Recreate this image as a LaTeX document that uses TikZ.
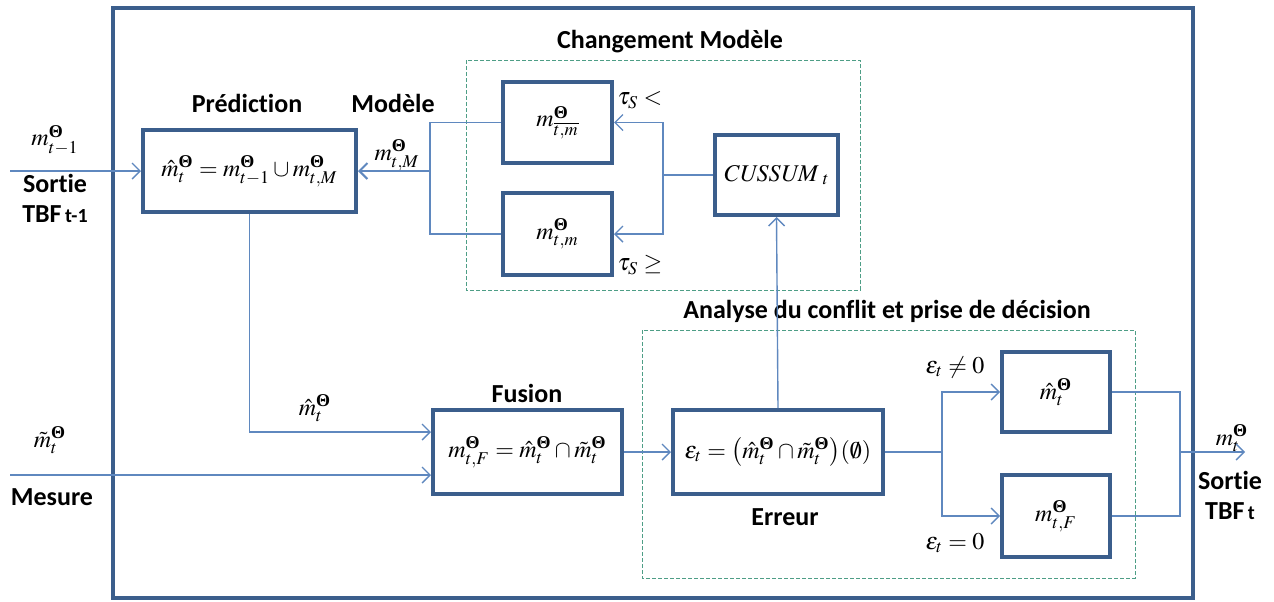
\documentclass[tikz,border=0pt]{standalone}
\usepackage{mathptmx}
\usepackage{amsmath,amssymb}
\usepackage[no-math]{fontspec}
\setmainfont{Liberation Serif}
\setsansfont{Carlito}[Ligatures=NoCommon]
\usetikzlibrary{arrows.meta}
\definecolor{boxcol}{HTML}{3B5E8C}
\definecolor{linkcol}{HTML}{5F88BF}
\definecolor{zonecol}{HTML}{4E9E86}
\newcommand{\Th}{\text{\normalfont\bfseries Θ}}
\begin{document}
\begin{tikzpicture}[x=0.5pt,y=-0.5pt,
    box/.style={draw=boxcol,line width=2pt,fill=white,inner sep=2pt},
    title/.style={font=\sffamily\bfseries\fontsize{13}{15}\selectfont,inner sep=0pt},
    lbl/.style={font=\fontsize{12}{14}\selectfont,inner sep=0pt},
    link/.style={draw=linkcol,line width=0.7pt},
    arr/.style={link,-{Straight Barb[length=4pt,width=8pt]}},
    zone/.style={draw=zonecol,dashed,line width=0.5pt,dash pattern=on 2pt off 1pt}]
    \useasboundingbox (0,0) rectangle (1274,601);
    \draw[draw=boxcol,line width=2pt] (113,8) rectangle (1193,598);
    \draw[zone] (466,60) rectangle (860,290);
    \draw[zone] (642,330) rectangle (1135,578);
    \node[box,minimum width=106.5pt,minimum height=41pt] (pred) at (249.5,171) {\fontsize{12}{14}\selectfont$\hat{m}^{\Th}_{t}=m^{\Th}_{t-1}\cup m^{\Th}_{t,M}$};
    \node[box,minimum width=54.5pt,minimum height=40.5pt] (mlow) at (557.5,122.5) {\fontsize{12}{14}\selectfont$m^{\Th}_{\overline{t,m}}$};
    \node[box,minimum width=54.5pt,minimum height=41pt] (mhigh) at (557.5,234) {\fontsize{12}{14}\selectfont$m^{\Th}_{t,m}$};
    \node[box,minimum width=61.5pt,minimum height=40pt] (cusum) at (776.5,175) {\fontsize{12}{14}\selectfont$\mathit{CUSSUM}_{\;t}$};
    \node[box,minimum width=94.5pt,minimum height=42pt] (fusion) at (527.5,452) {\fontsize{12}{14}\selectfont$m^{\Th}_{t,F}=\hat{m}^{\Th}_{t}\cap\tilde{m}^{\Th}_{t}$};
    \node[box,minimum width=105pt,minimum height=42pt] (erreur) at (778,452) {\fontsize{12}{14}\selectfont$\varepsilon_t=\bigl(\hat{m}^{\Th}_{t}\cap\tilde{m}^{\Th}_{t}\bigr)(\emptyset)$};
    \node[box,minimum width=54pt,minimum height=40pt] (mhat) at (1056,392) {\fontsize{12}{14}\selectfont$\hat{m}^{\Th}_{t}$};
    \node[box,minimum width=54pt,minimum height=41pt] (mfus) at (1056,516) {\fontsize{12}{14}\selectfont$m^{\Th}_{t,F}$};
    \node[title] (tpred) at (247,103) {Prédiction};
    \node[title] (tmod) at (393,103) {Modèle};
    \node[title] (tchg) at (670,42) {Changement Modèle};
    \node[title] (tfus) at (527,393) {Fusion};
    \node[title] (tana) at (887,311) {Analyse du conflit et prise de décision};
    \node[title] (terr) at (785,517) {Erreur};
    \node[title,align=center] (tin) at (55,198) {Sortie\\TBF{\fontsize{10}{12}\selectfont\,t-1}};
    \node[title] (tmes) at (52,497) {Mesure};
    \node[title,align=center] (tout) at (1230,495) {Sortie\\TBF{\fontsize{10}{12}\selectfont\,t}};
    \node[lbl] (lin) at (55,140) {$m^{\Th}_{t-1}$};
    \node[lbl] (lmes) at (50,440) {$\tilde{m}^{\Th}_{t}$};
    \node[lbl] (lmod) at (397,155) {$m^{\Th}_{t,M}$};
    \node[lbl] (llow) at (640,100) {$\tau_S<$};
    \node[lbl] (lhigh) at (640,265) {$\tau_S\geq$};
    \node[lbl] (lhat) at (315,408) {$\hat{m}^{\Th}_{t}$};
    \node[lbl] (lneq) at (955,367) {$\varepsilon_t\neq0$};
    \node[lbl] (leq) at (955,543) {$\varepsilon_t=0$};
    \node[lbl] (lout) at (1232,438) {$m^{\Th}_{t}$};
    \coordinate (in1) at (10,171);
    \coordinate (in2) at (10,475);
    \coordinate (j1) at (663,175);
    \coordinate (j2) at (430,171);
    \coordinate (j3) at (942,452);
    \coordinate (j4) at (1180,452);
    \coordinate (out) at (1245,452);
    \draw[arr] (in1) -- (in1 -| pred.west);
    \draw[arr] (in2) -- (in2 -| fusion.west);
    \draw[arr] (pred.south) |- ([yshift=10pt]fusion.west);
    \draw[arr] (fusion.east) -- (erreur.west);
    \draw[arr] (erreur.north) -- (cusum.south);
    \draw[link] (cusum.west) -- (j1);
    \draw[arr] (j1) |- (mlow.east);
    \draw[arr] (j1) |- (mhigh.east);
    \draw[link] (mlow.west) -| (j2);
    \draw[link] (mhigh.west) -| (j2);
    \draw[arr,line width=1pt] (j2) -- (pred.east);
    \draw[link] (erreur.east) -- (j3);
    \draw[arr] (j3) |- (mhat.west);
    \draw[arr] (j3) |- (mfus.west);
    \draw[link] (mhat.east) -| (j4);
    \draw[link] (mfus.east) -| (j4);
    \draw[arr] (j4) -- (out);
\end{tikzpicture}
\end{document}
